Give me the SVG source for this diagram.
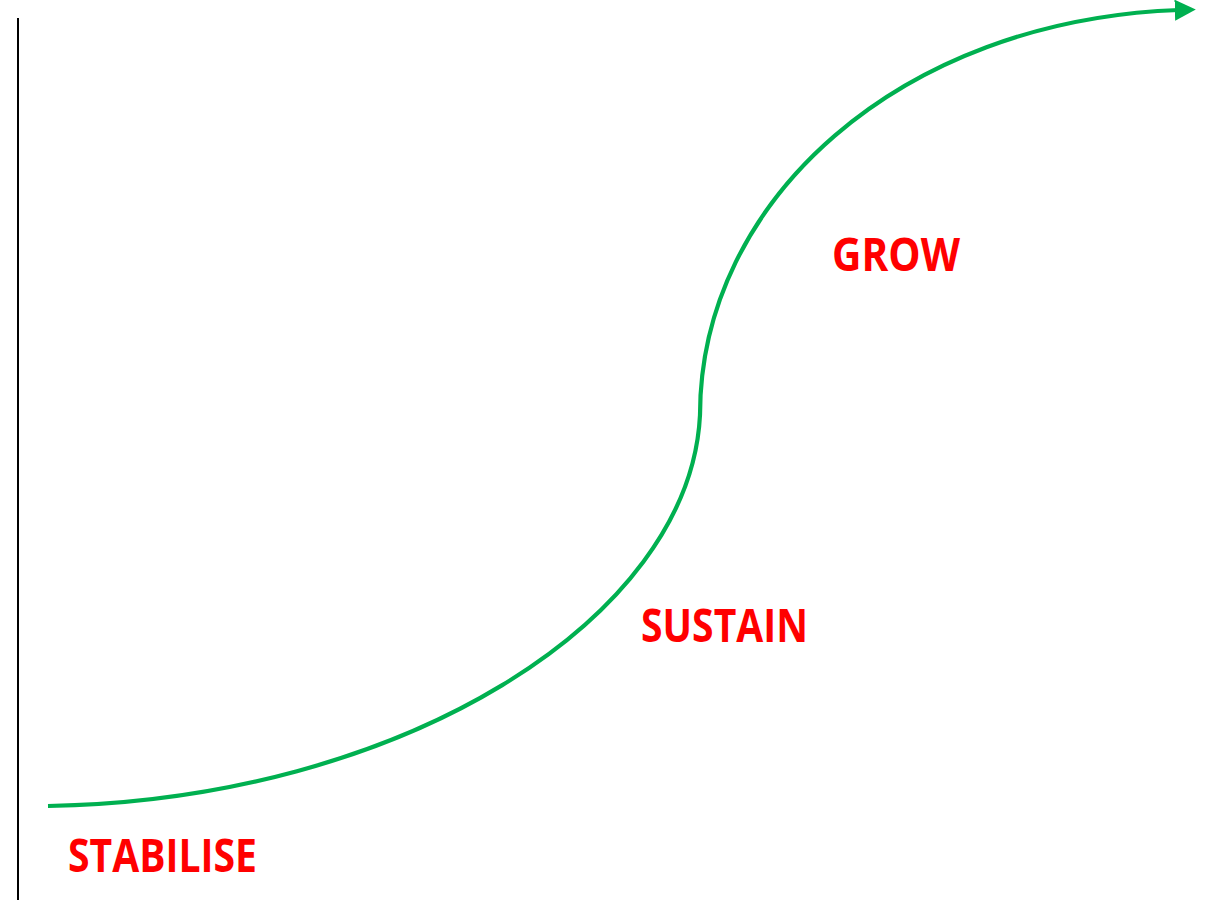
<svg xmlns="http://www.w3.org/2000/svg" width="1211" height="900" viewBox="0 0 1211 900">
<style>
.lbl{font-family:"Open Sans","Liberation Sans",sans-serif;font-weight:bold;font-size:46px;fill:#FF0000}
.curve{fill:none;stroke:#00B050;stroke-width:4.2}
</style>
<defs>
<marker id="arr" markerWidth="5" markerHeight="5" refX="1" refY="2.5" orient="auto" markerUnits="strokeWidth">
<path d="M0,0 L5,2.5 L0,5 Z" fill="#00B050"/>
</marker>
</defs>
<rect width="1211" height="900" fill="#FFFFFF"/>
<g id="axis"><line x1="18" y1="18" x2="18" y2="900" stroke="#000" stroke-width="2"/></g>
<g id="connectors">
<path class="curve" d="M48,806 C400,800 690,620 700,415 C700,200 900,20 1179,10" marker-end="url(#arr)"/>
</g>
<g id="grow"><text class="lbl" x="832" y="271" textLength="128" lengthAdjust="spacingAndGlyphs">GROW</text></g>
<g id="sustain"><text class="lbl" x="641" y="642" textLength="167" lengthAdjust="spacingAndGlyphs">SUSTAIN</text></g>
<g id="stabilise"><text class="lbl" x="68" y="872" textLength="189" lengthAdjust="spacingAndGlyphs">STABILISE</text></g>
</svg>
